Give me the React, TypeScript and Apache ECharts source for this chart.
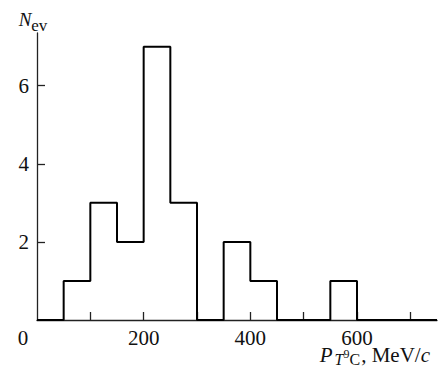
import React, { useEffect, useRef } from 'react';
import * as echarts from 'echarts';

const binEdges = [0, 50, 100, 150, 200, 250, 300, 350, 400, 450, 500, 550, 600, 650, 700];
const counts = [0, 1, 3, 2, 7, 3, 0, 2, 1, 0, 0, 1, 0, 0, 0];
const xMax = 750;
const yMax = 7.35;
const xTickValues = [100, 200, 300, 400, 500, 600, 700];
const xLabelValues = [0, 200, 400, 600];
const yTickValues = [2, 4, 6];

const FONT = '"Liberation Serif", "Times New Roman", serif';

export default function App() {
  const ref = useRef<HTMLDivElement>(null);
  useEffect(() => {
    if (!ref.current) return;
    const chart = echarts.init(ref.current, undefined, { renderer: 'svg' });
    const data: number[][] = binEdges.map((e, i) => [e, counts[i]]);
    data.push([xMax, counts[counts.length - 1]]);
    const axisColor = '#222';
    chart.setOption({
      animation: false,
      backgroundColor: '#fff',
      title: {
        text: '{i|P}{t|T}{n9|9}{c|C}{m|, MeV/}{i|c}',
        right: 9,
        top: 344,
        padding: 0,
        textStyle: {
          fontFamily: FONT,
          fontSize: 21,
          fontWeight: 'normal',
          color: '#111',
          rich: {
            i: { fontFamily: FONT, fontSize: 21, fontStyle: 'italic', color: '#111', lineHeight: 17, verticalAlign: 'top' },
            m: { fontFamily: FONT, fontSize: 21, color: '#111', lineHeight: 17, verticalAlign: 'top', padding: [0, 0, 0, 1] },
            t: { fontFamily: FONT, fontSize: 16, fontStyle: 'italic', color: '#111', padding: [7, 0, 0, 2], lineHeight: 16, verticalAlign: 'top' },
            n9: { fontFamily: FONT, fontSize: 12, color: '#111', padding: [4, 0, 0, 0], lineHeight: 12, verticalAlign: 'top' },
            c: { fontFamily: FONT, fontSize: 16, color: '#111', padding: [7, 0, 0, 0], lineHeight: 16, verticalAlign: 'top' },
          },
        },
      },
      grid: { left: 37, right: 2, top: 33, bottom: 55, containLabel: false, outerBoundsMode: 'none' },
      xAxis: {
        type: 'value',
        min: 0,
        max: xMax,
        interval: 100,
        splitLine: { show: false },
        axisLine: { show: true, onZero: false, lineStyle: { color: axisColor, width: 1.3 } },
        axisTick: { show: true, inside: true, length: 8, customValues: xTickValues, lineStyle: { color: axisColor, width: 1.3 } },
        axisLabel: {
          customValues: xLabelValues,
          margin: 11,
          color: '#111',
          fontFamily: FONT,
          fontSize: 21,
          lineHeight: 13,
          formatter: (v: number) => (v === 0 ? '{z|0}' : String(v)),
          rich: { z: { fontFamily: FONT, fontSize: 21, lineHeight: 13, color: '#111', padding: [0, 28, 0, 0] } },
        },
      },
      yAxis: {
        type: 'value',
        min: 0,
        max: yMax,
        interval: 2,
        splitLine: { show: false },
        axisLine: { show: true, onZero: false, lineStyle: { color: axisColor, width: 1.3 } },
        axisTick: { show: true, inside: true, length: 8, customValues: yTickValues, lineStyle: { color: axisColor, width: 1.3 } },
        axisLabel: { customValues: yTickValues, margin: 8, color: '#111', fontFamily: FONT, fontSize: 21 },
        name: '{n|N}{s|ev}',
        nameLocation: 'end',
        nameGap: 1,
        nameTextStyle: {
          align: 'center',
          verticalAlign: 'bottom',
          padding: [0, 8, 0, 0],
          rich: {
            n: { fontFamily: FONT, fontSize: 19, fontStyle: 'italic', color: '#111', lineHeight: 22, verticalAlign: 'top' },
            s: { fontFamily: FONT, fontSize: 17, color: '#111', padding: [7, 0, 0, 0], lineHeight: 17, verticalAlign: 'top' },
          },
        },
      },
      series: [
        {
          type: 'line',
          step: 'end',
          data,
          symbol: 'none',
          clip: false,
          lineStyle: { color: '#000', width: 2 },
        },
      ],
    });
    return () => chart.dispose();
  }, []);
  return <div ref={ref} style={{ position: 'fixed', left: 0, top: 0, width: 439, height: 375 }} />;
}
